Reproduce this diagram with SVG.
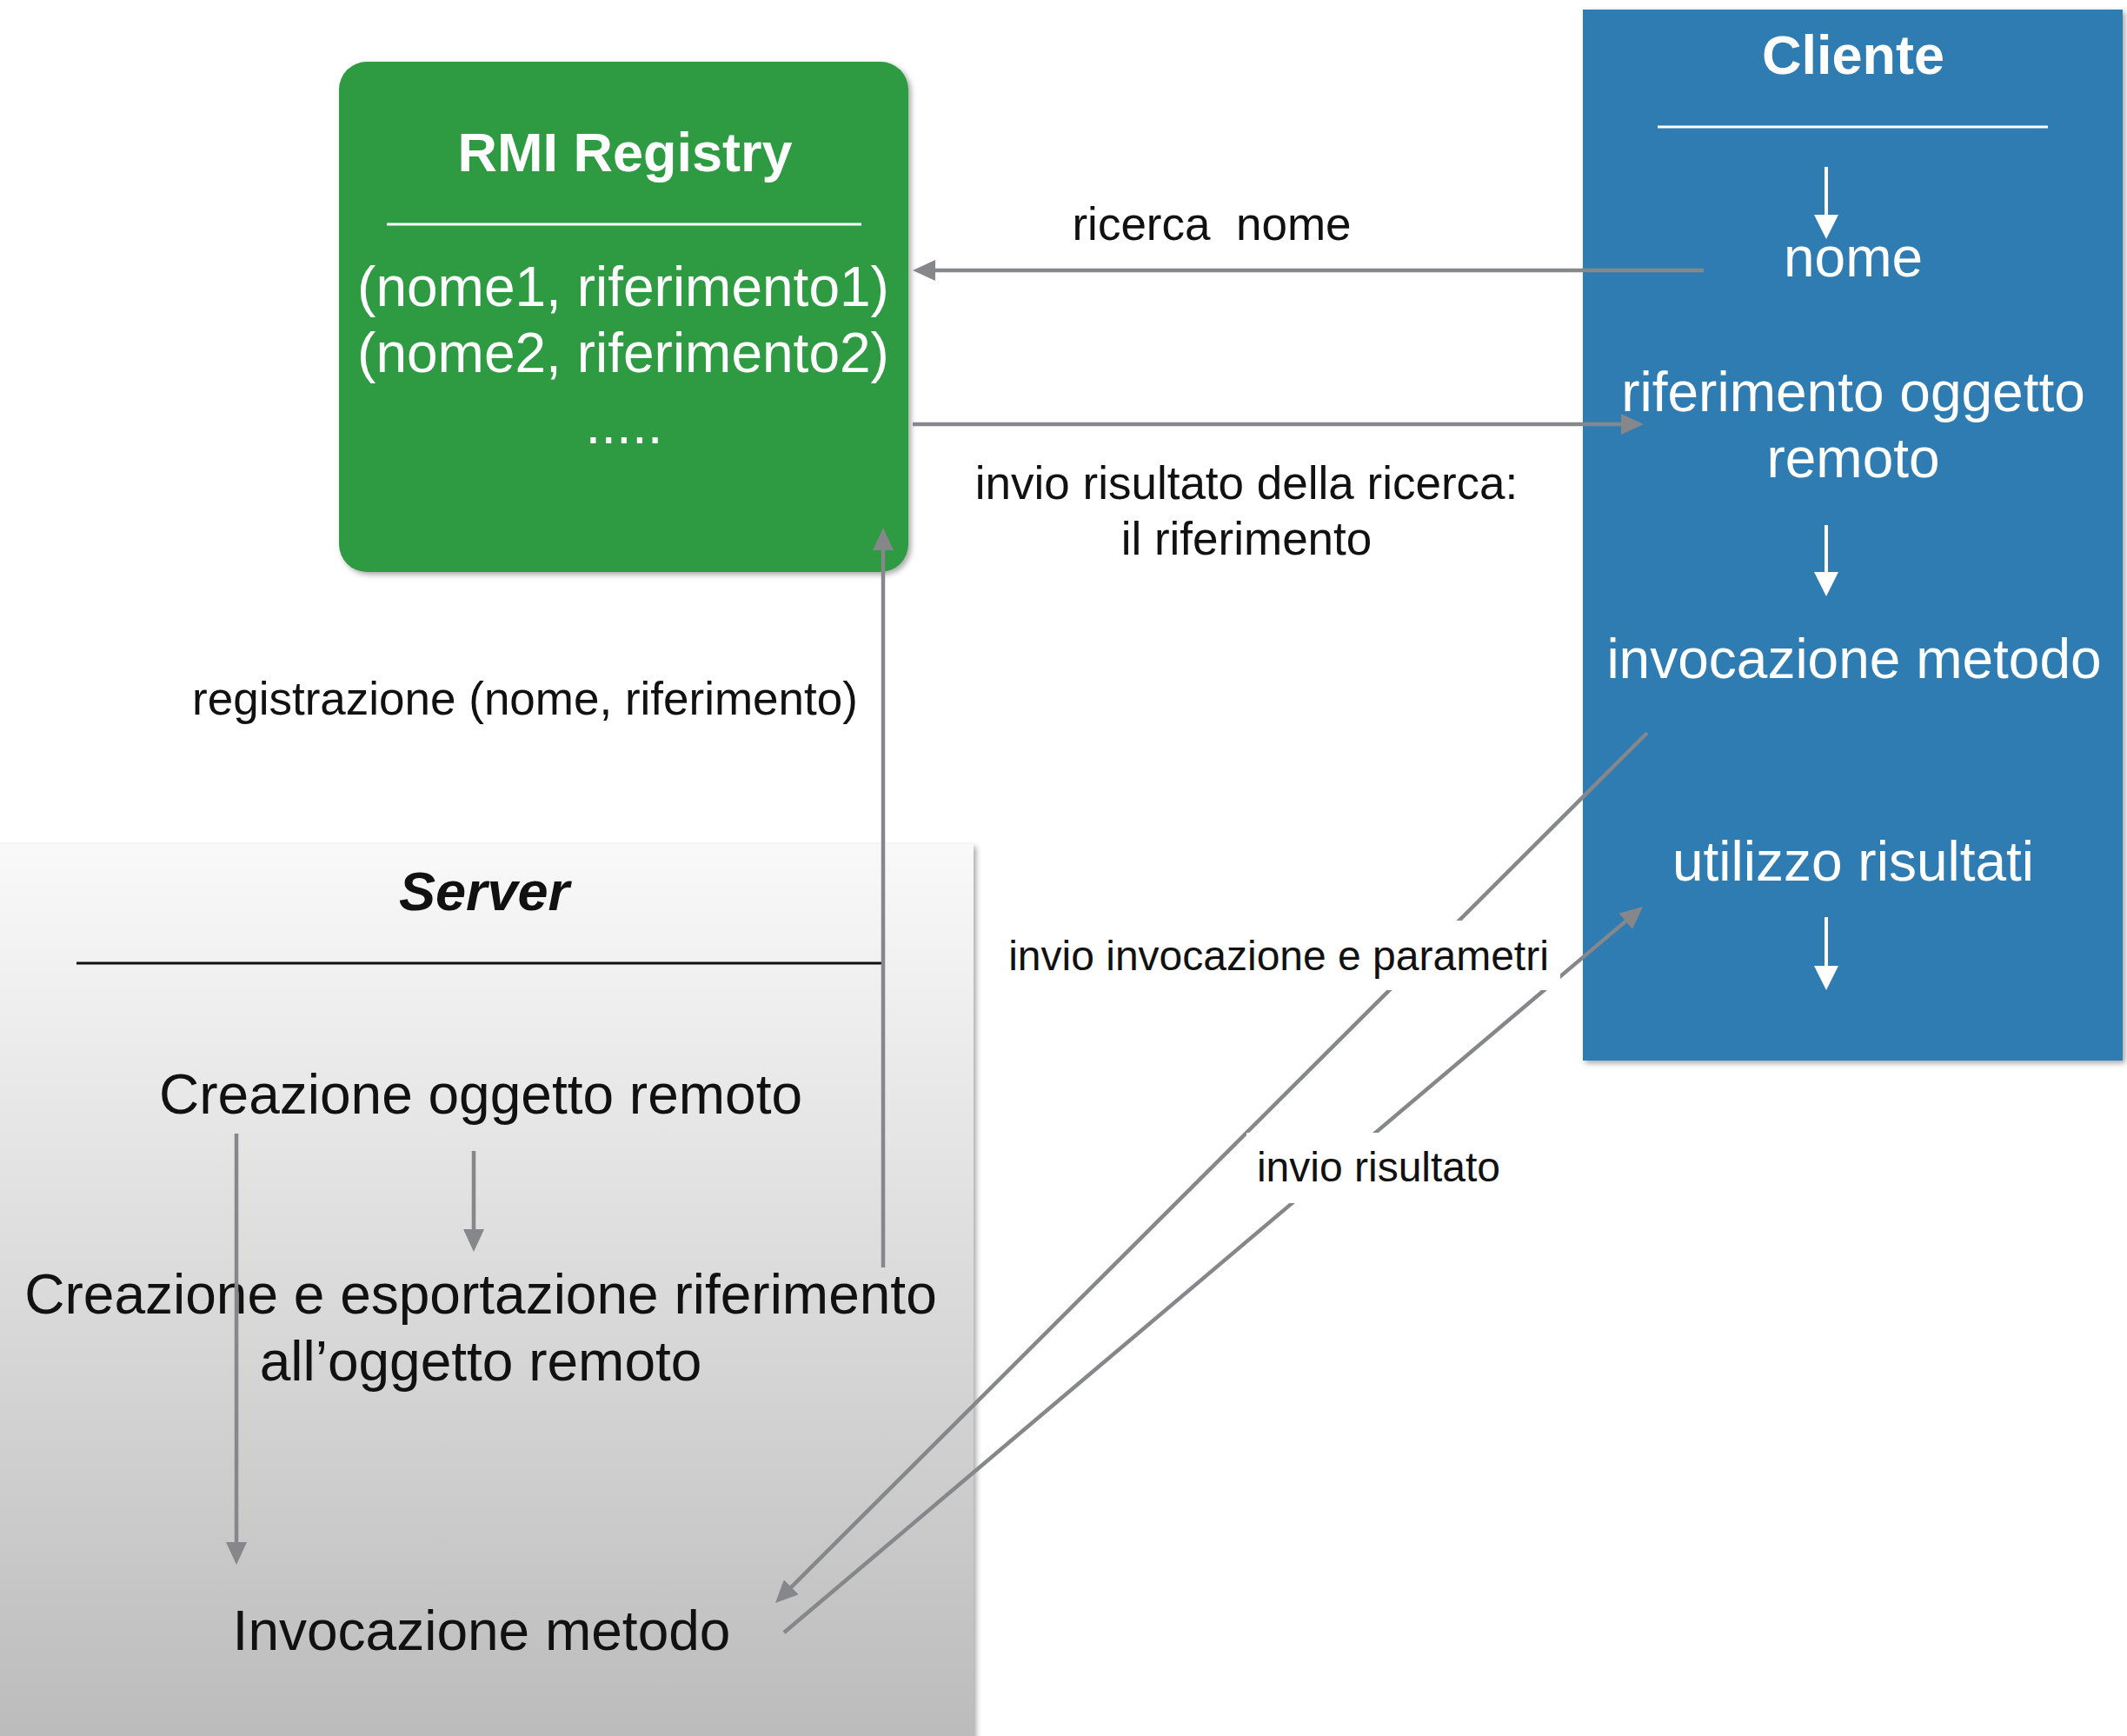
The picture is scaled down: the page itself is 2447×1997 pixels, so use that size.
<svg xmlns="http://www.w3.org/2000/svg" width="2447" height="1997" viewBox="0 0 2447 1997">
<defs>
<linearGradient id="srvGrad" x1="0" y1="0" x2="0" y2="1">
<stop offset="0" stop-color="#f9f9f9"/>
<stop offset="1" stop-color="#bababa"/>
</linearGradient>
<filter id="shadow" x="-5%" y="-5%" width="115%" height="115%">
<feDropShadow dx="3" dy="3" stdDeviation="3" flood-color="#000" flood-opacity="0.35"/>
</filter>
<marker id="ahGray" viewBox="0 0 26 24" refX="8" refY="12" markerWidth="26" markerHeight="24" markerUnits="userSpaceOnUse" orient="auto">
<path d="M0,0 L26,12 L0,24 Z" fill="#86878b"/>
</marker>
<marker id="ahWhite" viewBox="0 0 28 28" refX="14" refY="8" markerWidth="28" markerHeight="28" markerUnits="userSpaceOnUse" orient="0">
<path d="M0,0 L28,0 L14,28 Z" fill="#ffffff"/>
</marker>
</defs>
<style>
.t{font-family:"Liberation Sans",Arial,Helvetica,sans-serif;font-size:64px;text-anchor:middle}
.w{fill:#ffffff}
.k{fill:#111111}
.title{font-family:"Liberation Sans",Arial,Helvetica,sans-serif;font-size:63px;font-weight:bold;text-anchor:middle}
.lbl{font-family:"Liberation Sans",Arial,Helvetica,sans-serif;font-size:53px;fill:#111111;text-anchor:middle}
.lbls{font-family:"Liberation Sans",Arial,Helvetica,sans-serif;font-size:48px;fill:#111111;text-anchor:middle}
.conn{stroke:#86878b;stroke-width:4.5;fill:none;marker-end:url(#ahGray)}
.wa{stroke:#ffffff;stroke-width:4;fill:none;marker-end:url(#ahWhite)}
</style>
<rect x="0" y="0" width="2447" height="1997" fill="#ffffff"/>

<g id="server">
<rect x="-20" y="971" width="1140" height="1050" fill="url(#srvGrad)" filter="url(#shadow)"/>
<text class="title k" x="557" y="1047" font-style="italic">Server</text>
<line x1="88" y1="1108" x2="1016" y2="1108" stroke="#111111" stroke-width="3"/>
<text class="t k" x="553" y="1281">Creazione oggetto remoto</text>
<text class="t k" x="553" y="1511">Creazione e esportazione riferimento</text>
<text class="t k" x="553" y="1588">all’oggetto remoto</text>
<text class="t k" x="554" y="1898">Invocazione metodo</text>
</g>

<g id="rmi-registry">
<rect x="390" y="71" width="655" height="587" rx="32" ry="32" fill="#2f9a43" filter="url(#shadow)"/>
<text class="title w" x="719" y="197">RMI Registry</text>
<line x1="445" y1="258" x2="991" y2="258" stroke="#ffffff" stroke-width="3"/>
<text class="t w" x="717" y="352">(nome1, riferimento1)</text>
<text class="t w" x="717" y="428">(nome2, riferimento2)</text>
<text class="t w" x="718" y="510">.....</text>
</g>

<g id="cliente">
<rect x="1821" y="11" width="621" height="1209" fill="#2e7cb1" filter="url(#shadow)"/>
<text class="title w" x="2132" y="85">Cliente</text>
<line x1="1907" y1="146" x2="2356" y2="146" stroke="#ffffff" stroke-width="3"/>
<line class="wa" x1="2101" y1="192" x2="2101" y2="255"/>
<text class="t w" x="2132" y="318">nome</text>
<text class="t w" x="2132" y="473">riferimento oggetto</text>
<text class="t w" x="2132" y="549">remoto</text>
<line class="wa" x1="2101" y1="604" x2="2101" y2="666"/>
<text class="t w" x="2133" y="780">invocazione metodo</text>
<text class="t w" x="2132" y="1013">utilizzo risultati</text>
<line class="wa" x1="2101" y1="1055" x2="2101" y2="1119"/>
</g>

<g id="connectors">
<line class="conn" x1="1960" y1="311" x2="1068" y2="311"/>
<line class="conn" x1="1050" y1="488" x2="1873" y2="488"/>
<line class="conn" x1="1016" y1="1458" x2="1016" y2="625"/>
<line class="conn" x1="272" y1="1304" x2="272" y2="1782"/>
<line class="conn" x1="545" y1="1324" x2="545" y2="1422"/>
<line class="conn" x1="1895" y1="843" x2="904.7" y2="1831.3"/>
<line class="conn" x1="902" y1="1878" x2="1876.3" y2="1054.6"/>
</g>

<g id="labels">
<text class="lbl" x="1394" y="276" xml:space="preserve">ricerca  nome</text>
<text class="lbl" x="1434" y="574">invio risultato della ricerca:</text>
<text class="lbl" x="1434" y="638">il riferimento</text>
<text class="lbl" x="604" y="822">registrazione (nome, riferimento)</text>
<rect x="1150" y="1059" width="645" height="80" fill="#ffffff"/>
<text class="lbls" x="1471" y="1116">invio invocazione e parametri</text>
<rect x="1434" y="1303" width="306" height="81" fill="#ffffff"/>
<text class="lbls" x="1586" y="1359">invio risultato</text>
</g>
</svg>
